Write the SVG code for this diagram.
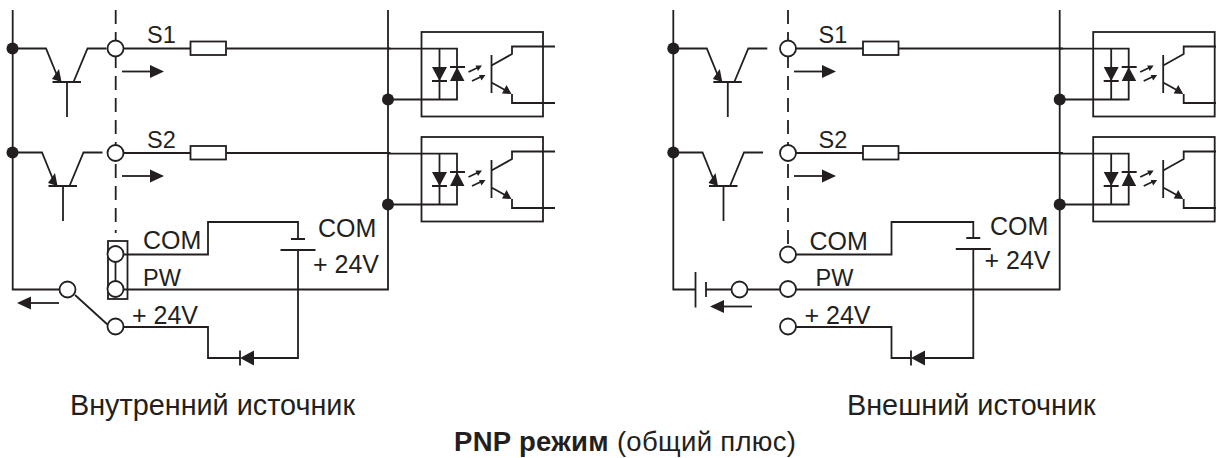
<svg xmlns="http://www.w3.org/2000/svg" width="1216" height="458" viewBox="0 0 1216 458">
<style>
.w{fill:none;stroke:#231f20;stroke-width:1.8}
.d{fill:none;stroke:#231f20;stroke-width:1.8;stroke-dasharray:14 8}
.f{fill:#231f20;stroke:none}
.c{fill:#fff;stroke:#231f20;stroke-width:1.8}
text{font-family:"Liberation Sans",Arial,sans-serif;font-size:25px;fill:#231f20}
.s{font-size:23.500px}
.cap{font-size:28.800px}
.pnp{font-size:27.500px}
.b{font-weight:700}
</style>
<defs>
<g id="opto">
<rect class="w" x="421.500" y="32" width="121.500" height="84.500"/>
<path class="w" d="M388 48.700H457V99.500H388M439.500 48.700V99.500M432 81H447M450 67H465M491.500 55V93M491.500 65.500L512 54V46.500H555M491.500 82.500L505 90M512 94V103H555"/>
<path class="f" d="M432 67H447L439.500 81ZM450 81H464.500L457 67ZM511.500 94L502 93.500L506.500 85Z"/>
<path class="w" d="M468.500 72L478 67.500M472 81L481.500 76.500"/>
<path class="f" d="M482 65.500L475.500 65.500L478 71ZM485.500 75L479 75L481.500 80.500Z"/>
</g>
<g id="trans">
<path class="w" d="M0 0H33.500L47 33M40 33.500H68.500M54.500 33.500V68.500M61 33.500L75 0H94"/>
<path class="f" d="M49 33.500L39.500 30.500L46.500 20.500Z"/>
</g>
<g id="arrR"><path class="w" d="M0 0H30"/><path class="f" d="M28 -6.500L42 0L28 6.500Z"/></g>
<g id="arrL"><path class="w" d="M0 0H-28"/><path class="f" d="M-28 -6.500L-42 0L-28 6.500Z"/></g>
<g id="res"><path class="w" d="M0 0H75M111 0H275"/><rect class="c" x="75" y="-7" width="35.500" height="13.500"/></g>
<g id="batt"><path class="w" d="M-7 0H7M-17.500 11H17.500"/></g>
<g id="dio"><path class="f" d="M0 0L14 -7.500V7.500Z"/><path class="w" d="M0 -7.500V7.500"/></g>
<circle id="dot" class="f" r="6"/>
<circle id="ring" class="c" r="8"/>
</defs>

<g id="connectors">
<path class="w" d="M12.700 10V289.500H59M388 10V289.500H124"/>
<path class="d" d="M115.700 10V233"/>
<path class="w" d="M124 254.500H208V222H298V239M298 250V358H254M75 295L108 325M124 327H208V358H240"/>
<path class="w" d="M673.300 10V289.500H695.500M706 289.500H731M748 289.500H780M796 289.500H1059.700V10"/>
<path class="d" d="M788 10V247"/>
<path class="w" d="M796 254.500H891.500V222H973.300V238M973.300 249V358H925M796 327H891.500V358H911"/>
</g>

<g id="left-inputs">
<use href="#trans" x="12.500" y="48.500"/>
<use href="#trans" x="8.500" y="152.500"/>
<use href="#res" x="115.500" y="48.500"/>
<use href="#res" x="115.500" y="153"/>
<use href="#arrR" x="122" y="71.500"/>
<use href="#arrR" x="122" y="176"/>
</g>
<g id="left-opto1"><use href="#opto"/></g>
<g id="left-opto2"><use href="#opto" y="105"/></g>
<g id="left-dots">
<use href="#dot" x="12.500" y="48.500"/><use href="#dot" x="12.500" y="152.500"/>
<use href="#dot" x="388" y="99.500"/><use href="#dot" x="388" y="204.500"/>
<use href="#ring" x="115.500" y="48.500"/><use href="#ring" x="115.500" y="153"/>
</g>
<g id="left-jumper">
<rect class="w" x="108" y="241" width="19.500" height="58"/>
<path class="w" d="M115.500 262V281"/>
<use href="#ring" x="115.500" y="254"/><use href="#ring" x="115.500" y="289"/>
</g>
<g id="left-switch">
<use href="#ring" x="67.500" y="289.500"/><use href="#ring" x="115.500" y="326.500"/>
<use href="#arrL" x="59" y="303"/>
</g>
<g id="left-battery"><use href="#batt" x="298" y="239"/></g>
<g id="left-diode"><use href="#dio" x="240" y="358"/></g>

<g id="right-inputs">
<use href="#trans" x="673.300" y="48.500"/>
<use href="#trans" x="669" y="152.500"/>
<use href="#res" x="788" y="48.500"/>
<use href="#res" x="788" y="153"/>
<use href="#arrR" x="794" y="71.500"/>
<use href="#arrR" x="794" y="176"/>
</g>
<g id="right-opto1"><use href="#opto" x="671.700"/></g>
<g id="right-opto2"><use href="#opto" x="671.700" y="105"/></g>
<g id="right-dots">
<use href="#dot" x="673.300" y="48.500"/><use href="#dot" x="673.300" y="152.500"/>
<use href="#dot" x="1059.700" y="99.500"/><use href="#dot" x="1059.700" y="204.500"/>
<use href="#ring" x="788" y="48.500"/><use href="#ring" x="788" y="153"/>
</g>
<g id="right-terminals">
<use href="#ring" x="788" y="254.500"/><use href="#ring" x="788" y="289"/><use href="#ring" x="788" y="326.500"/>
<use href="#ring" x="739.500" y="289.500"/>
<use href="#arrL" x="752" y="306.500"/>
</g>
<g id="right-source">
<path class="w" d="M695.500 272V307.500M706 282V297"/>
</g>
<g id="right-battery"><use href="#batt" x="973.300" y="238"/></g>
<g id="right-diode"><use href="#dio" x="911" y="358"/></g>

<g id="labels">
<text class="s" x="147" y="42.500">S1</text>
<text class="s" x="147" y="147.500">S2</text>
<text x="143" y="249">COM</text>
<text class="s" x="143" y="286">PW</text>
<text x="132" y="324">+ 24V</text>
<text x="318" y="237">COM</text>
<text x="313" y="272.500">+ 24V</text>
<text class="s" x="818.500" y="42.500">S1</text>
<text class="s" x="818.500" y="147.500">S2</text>
<text x="809.500" y="250">COM</text>
<text class="s" x="815.500" y="286">PW</text>
<text x="804.500" y="324">+ 24V</text>
<text x="990" y="235">COM</text>
<text x="984.500" y="269">+ 24V</text>
<text class="cap" x="70" y="415">Внутренний источник</text>
<text class="cap" x="847" y="415">Внешний источник</text>
<text class="pnp" x="454" y="451" textLength="342"><tspan class="b">PNP режим</tspan> (общий плюс)</text>
</g>
</svg>
